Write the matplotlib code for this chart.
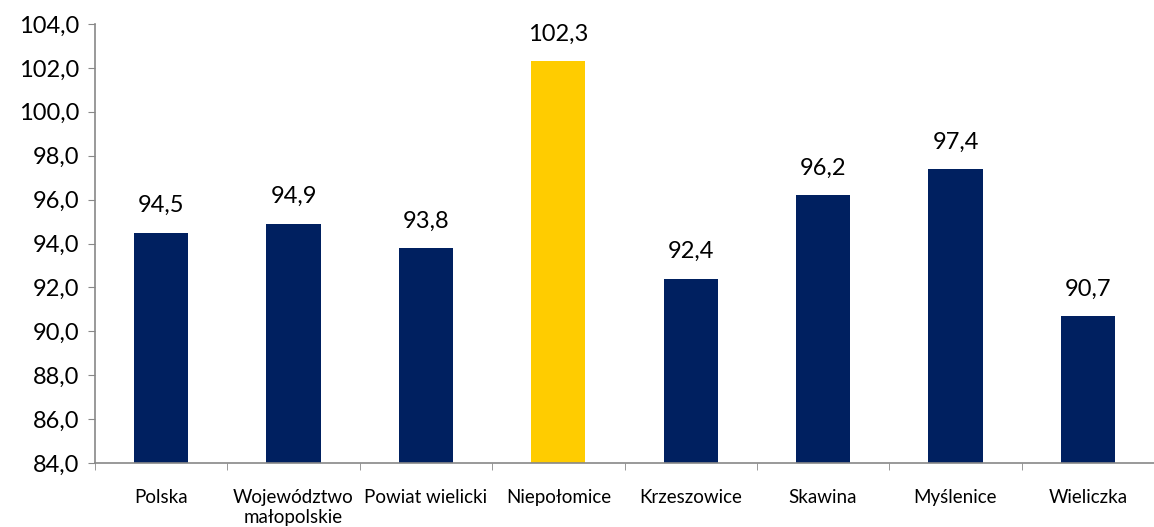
import numpy as np
import matplotlib.pyplot as plt

categories = ["Polska", "Województwo\nmałopolskie", "Powiat wielicki", "Niepołomice",
              "Krzeszowice", "Skawina", "Myślenice", "Wieliczka"]
values = [94.5, 94.9, 93.8, 102.3, 92.4, 96.2, 97.4, 90.7]
highlight = "Niepołomice"
y_ticks = [84, 86, 88, 90, 92, 94, 96, 98, 100, 102, 104]

plt.rcParams['font.family'] = ['Lato', 'DejaVu Sans']

fig = plt.figure(figsize=(11.54, 5.27), dpi=100)
ax = fig.add_axes([95/1154, 1 - 463/527, 1 - 95/1154, (463 - 24)/527])

x = np.arange(len(categories))
colors = ["#FFCC00" if c == highlight else "#002060" for c in categories]
ax.bar(x, values, width=0.41, color=colors, zorder=2)

for xi, v in zip(x, values):
    ax.text(xi, v + 0.75, f"{v:.1f}".replace(".", ","), ha="center", va="bottom", fontsize=17)

ax.set_ylim(84, 104)
ax.set_yticks(y_ticks)
ax.set_yticklabels([f"{t:.1f}".replace(".", ",") for t in y_ticks], fontsize=17)
ax.set_xlim(-0.5, -0.5 + (1154 - 95) / 134.5)

ax.set_xticks(x)
ax.set_xticklabels(categories, fontsize=13.5, linespacing=1.2)
ax.tick_params(axis="x", length=0, pad=19)
ax.set_xticks(np.arange(len(categories) + 1) - 0.5, minor=True)
ax.tick_params(axis="x", which="minor", length=5, color="#888888")
ax.tick_params(axis="y", length=5, color="#888888", pad=6)

for side in ["top", "right"]:
    ax.spines[side].set_visible(False)
for side in ["left", "bottom"]:
    ax.spines[side].set_color("#888888")
    ax.spines[side].set_linewidth(1.2)

plt.savefig("out.png", dpi=100)
